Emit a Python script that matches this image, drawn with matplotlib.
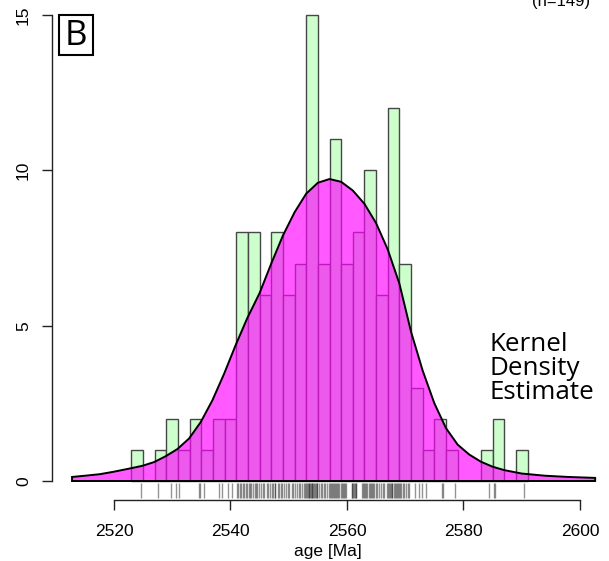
import matplotlib
matplotlib.use("Agg")
import matplotlib.pyplot as plt
from matplotlib.patches import Rectangle

# histogram: left edges of 2 Ma bins and counts
bin_left = [2523, 2525, 2527, 2529, 2531, 2533, 2535, 2537, 2539, 2541, 2543,
            2545, 2547, 2549, 2551, 2553, 2555, 2557, 2559, 2561, 2563, 2565,
            2567, 2569, 2571, 2573, 2575, 2577, 2579, 2581, 2583, 2585, 2587,
            2589]
counts = [1, 0, 1, 2, 1, 2, 1, 2, 2, 8, 8,
          6, 8, 6, 7, 15, 7, 11, 7, 8, 10, 6,
          12, 7, 3, 1, 2, 1, 0, 0, 1, 2, 0,
          1]

# kernel density estimate (scaled to counts)
kde_age = [2512.8, 2515, 2517.6, 2520, 2522.9, 2524.9, 2526.9, 2528.9, 2530.9,
           2532.9, 2534.9, 2536.9, 2538.9, 2540.9, 2542.9, 2545, 2547, 2549,
           2551, 2553, 2555, 2557, 2559, 2561, 2563, 2565, 2567, 2569, 2571,
           2573, 2575, 2577, 2579, 2581, 2583, 2585, 2587, 2590, 2594, 2598,
           2602.6]
kde_height = [0.13, 0.17, 0.22, 0.30, 0.41, 0.49, 0.61, 0.80, 1.03,
              1.37, 1.90, 2.60, 3.45, 4.38, 5.25, 6.05, 7.00, 7.90,
              8.65, 9.25, 9.60, 9.72, 9.63, 9.35, 8.92, 8.30, 7.45, 6.35, 4.80,
              3.55, 2.50, 1.70, 1.17, 0.85, 0.62, 0.46, 0.35, 0.24, 0.17, 0.13,
              0.10]

# individual ages for the rug
ages = [2524.7, 2527.6, 2529.8, 2530.6, 2531.1, 2534.6, 2534.8, 2535.5,
        2538.0, 2538.6, 2539.5, 2540.2,
        2541.1, 2541.3, 2541.6, 2541.8, 2542.1, 2542.3, 2542.6, 2542.9,
        2543.2, 2543.4, 2543.5, 2543.9, 2544.2, 2544.3, 2544.6, 2544.9,
        2545.3, 2545.6, 2545.7, 2546.2, 2546.4, 2546.8,
        2547.1, 2547.3, 2547.6, 2547.7, 2548.1, 2548.4, 2548.6, 2548.9,
        2549.2, 2549.5, 2549.8, 2550.1, 2550.5, 2550.8,
        2551.1, 2551.4, 2551.7, 2552.0, 2552.3, 2552.6, 2552.8,
        2553.0, 2553.1, 2553.3, 2553.4, 2553.5, 2553.7, 2553.8, 2554.0,
        2554.0, 2554.2, 2554.3, 2554.5, 2554.6, 2554.8, 2554.9,
        2555.2, 2555.5, 2555.7, 2556.0, 2556.3, 2556.6, 2556.9,
        2557.0, 2557.2, 2557.4, 2557.6, 2557.8, 2558.0, 2558.1, 2558.3,
        2558.5, 2558.7, 2558.9,
        2559.1, 2559.3, 2559.5, 2559.7, 2559.9, 2560.8, 2560.9,
        2561.0, 2561.2, 2561.4, 2561.5, 2561.6, 2562.6, 2562.8, 2562.9,
        2563.1, 2563.3, 2563.5, 2563.7, 2563.9, 2564.1, 2564.3, 2564.5,
        2564.7, 2564.9,
        2565.2, 2565.5, 2565.8, 2566.1, 2566.4, 2566.8,
        2567.0, 2567.2, 2567.3, 2567.5, 2567.7, 2567.8, 2568.0, 2568.2,
        2568.4, 2568.5, 2568.7, 2568.9,
        2569.1, 2569.3, 2569.6, 2569.8, 2570.1, 2570.4, 2570.7,
        2571.7, 2572.4, 2572.9, 2573.6, 2576.3, 2576.5, 2578.5,
        2584.3, 2585.2, 2585.4, 2590.4]

x_ticks = [2520, 2540, 2560, 2580, 2600]
y_ticks = [0, 5, 10, 15]

W, H = 609, 561
fig = plt.figure(figsize=(W / 100, H / 100), dpi=100)
# axes box in pixels: left 52, right 604, top 10, bottom 500
ax = fig.add_axes([52 / W, (H - 500) / H, (604 - 52) / W, (500 - 10) / H])
ax.set_xlim(2509.36, 2604.12)
ax.set_ylim(-0.6115, 15.161)

ax.bar(bin_left, counts, width=2, align="edge", color="#ccffcc",
       edgecolor="#474747", linewidth=1.0, zorder=2)

poly_x = [kde_age[0]] + kde_age + [kde_age[-1]]
poly_y = [0] + kde_height + [0]
ax.fill(poly_x, poly_y, facecolor=(1, 0, 1, 0.65), edgecolor="black",
        linewidth=1.4, zorder=3)

ax.vlines(ages, -0.547, -0.064, colors="black", alpha=0.42, linewidth=1.0,
          zorder=3)

for s in ["top", "right"]:
    ax.spines[s].set_visible(False)
ax.spines["left"].set_bounds(0, 15)
ax.spines["bottom"].set_bounds(2520, 2600)
for s in ["left", "bottom"]:
    ax.spines[s].set_linewidth(1.0)
    ax.spines[s].set_color("#222222")

ax.set_xticks(x_ticks)
ax.set_yticks(y_ticks)
ax.tick_params(axis="both", direction="out", length=7.2, width=1.0,
               color="#222222", labelsize=12.5)
ax.tick_params(axis="x", pad=10)
ax.tick_params(axis="y", pad=8)
for lab in ax.get_yticklabels():
    lab.set_rotation(90)
    lab.set_va("center")
for lab in ax.get_xticklabels() + ax.get_yticklabels():
    lab.set_fontfamily("Liberation Sans")
ax.set_xlabel("age [Ma]", fontsize=12.5, family="Liberation Sans",
              labelpad=4)

fig.text(590 / W, 1 - 6 / H, "(n=149)", ha="right", va="baseline",
         fontsize=12, family="Liberation Sans")

fig.text(490 / W, 1 - 332 / H, "Kernel\nDensity\nEstimate", ha="left",
         va="top", fontsize=18.7, linespacing=0.95, family="Open Sans")

# panel letter in a box
fig.patches.append(Rectangle((59 / W, 1 - 55 / H), 34 / W, 40 / H,
                             transform=fig.transFigure, facecolor="white",
                             edgecolor="black", linewidth=1.5, zorder=5))
fig.text(76 / W, 1 - 36 / H, "B", ha="center", va="center", fontsize=25,
         family="Open Sans", zorder=6)

fig.savefig("out.png", dpi=100)
